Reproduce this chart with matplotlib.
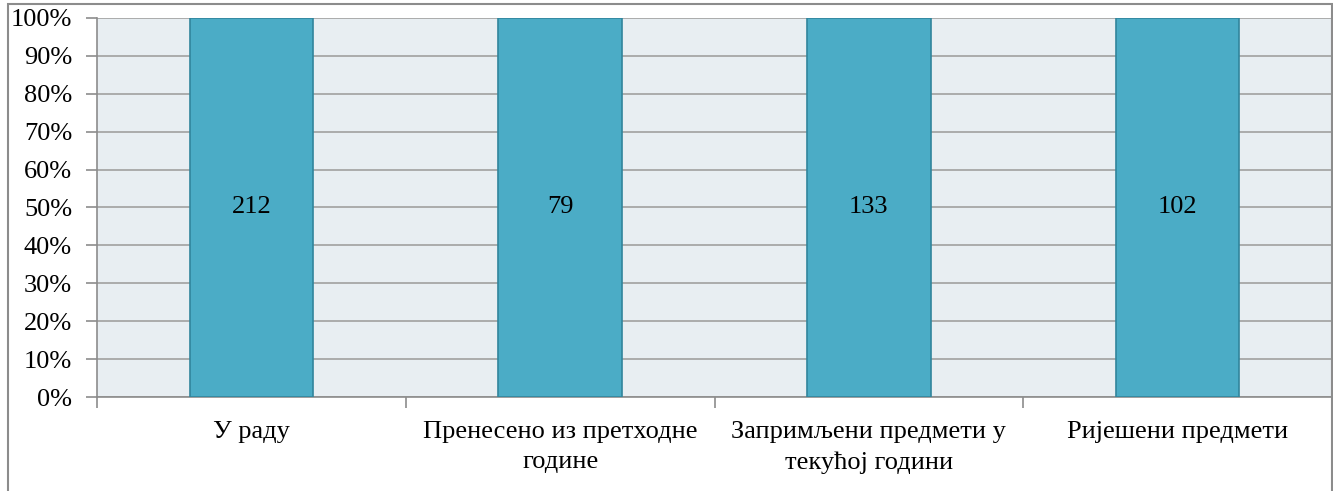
import matplotlib.pyplot as plt
from matplotlib.patches import Rectangle

# Подаци
kategorije = ["У раду", "Пренесено из претходне\nгодине",
              "Запримљени предмети у\nтекућој години", "Ријешени предмети"]
vrijednosti = [212, 79, 133, 102]
procenti = [100, 100, 100, 100]

plt.rcParams['font.family'] = ['Liberation Serif', 'DejaVu Serif']

W, H = 1333, 491
fig = plt.figure(figsize=(W / 100, H / 100), dpi=100)

# okvir oko grafikona
fig.patches.append(Rectangle((8 / W, -0.01), 1 - 9 / W, 1 - 4 / H + 0.01,
                             transform=fig.transFigure, fill=False,
                             edgecolor='#8c8c8c', linewidth=1.5))

ax = fig.add_axes([97 / W, 1 - 397 / H, (1332 - 97) / W, (397 - 18) / H])
ax.set_facecolor('#e8eef2')

x = [i + 0.5 for i in range(len(kategorije))]
ax.bar(x, procenti, width=0.4, color='#4bacc6', edgecolor='#31859c',
       linewidth=1.2, zorder=3)
for xi, v in zip(x, vrijednosti):
    ax.text(xi, 50, str(v), ha='center', va='center', fontsize=19, zorder=4)

ax.set_xlim(0, 4)
ax.set_ylim(0, 100)
ax.set_yticks(range(0, 101, 10))
ax.set_yticklabels([f"{t}%" for t in range(0, 101, 10)], fontsize=19)
ax.yaxis.grid(True, color='#a0a0a0', linewidth=1.2, zorder=1)

ax.set_xticks([0, 1, 2, 3, 4])
ax.set_xticklabels([])
ax.set_xticks(x, minor=True)
ax.set_xticklabels(kategorije, minor=True, fontsize=19, linespacing=1.5)
ax.tick_params(axis='x', which='minor', length=0, pad=17)
ax.tick_params(axis='x', which='major', length=8, color='#8c8c8c', width=1.2)
ax.tick_params(axis='y', length=8, color='#8c8c8c', width=1.2, pad=10)

for s in ['top', 'right']:
    ax.spines[s].set_visible(False)
ax.spines['left'].set_color('#8c8c8c')
ax.spines['bottom'].set_color('#8c8c8c')
ax.spines['left'].set_linewidth(1.2)
ax.spines['bottom'].set_linewidth(1.2)

fig.savefig("out.png", dpi=100)
